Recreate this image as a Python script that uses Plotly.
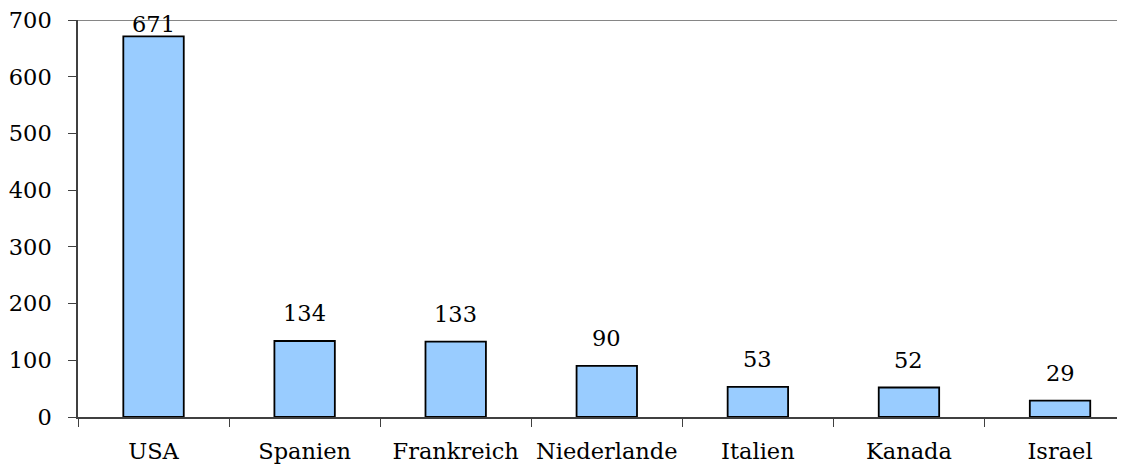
import plotly.graph_objects as go

categories = ["USA", "Spanien", "Frankreich", "Niederlande", "Italien", "Kanada", "Israel"]
values = [671, 134, 133, 90, 53, 52, 29]
y_ticks = [0, 100, 200, 300, 400, 500, 600, 700]

FONT = "DejaVu Serif"
FS = 22.5

fig = go.Figure()
fig.add_trace(go.Bar(
    x=categories, y=values, width=0.4,
    marker=dict(color="#99CCFF", line=dict(color="#000000", width=1.8)),
    hoverinfo="skip",
))

ppu = 397 / 700.0
for c, v in zip(categories, values):
    gap = min(13, (700 - v) * ppu - 19)
    fig.add_annotation(x=c, y=v, text=str(v), showarrow=False, yanchor="bottom",
                       yshift=gap, font=dict(family=FONT, size=FS, color="#000000"))

fig.add_shape(type="line", xref="paper", yref="y", x0=0, x1=1, y0=700, y1=700,
              line=dict(color="#868686", width=2))

# page body has an 8px default margin; compensate so the chart fills the window
fig.update_layout(
    width=1117, height=456,
    margin=dict(l=70, r=0, t=12, b=47),
    plot_bgcolor="white", paper_bgcolor="white",
    showlegend=False,
    font=dict(family=FONT, size=FS, color="#000000"),
    xaxis=dict(
        range=[-0.5, 6.43], showgrid=False, showline=True, linecolor="#404040", linewidth=1.5,
        ticks="outside", tickson="boundaries", ticklen=8, tickcolor="#404040", tickwidth=1.2,
        tickfont=dict(family=FONT, size=FS), zeroline=False, automargin=False,
        ticklabelstandoff=13, ticklabeloverflow="allow",
    ),
    yaxis=dict(
        range=[0, 700], tickvals=y_ticks, showgrid=False, showline=True, linecolor="#404040",
        linewidth=1.5, ticks="outside", ticklen=8, tickcolor="#404040", tickwidth=1.2,
        tickfont=dict(family=FONT, size=FS), zeroline=False, automargin=False,
        ticklabelstandoff=12, ticklabeloverflow="allow",
    ),
)

fig.write_html("out.html")
